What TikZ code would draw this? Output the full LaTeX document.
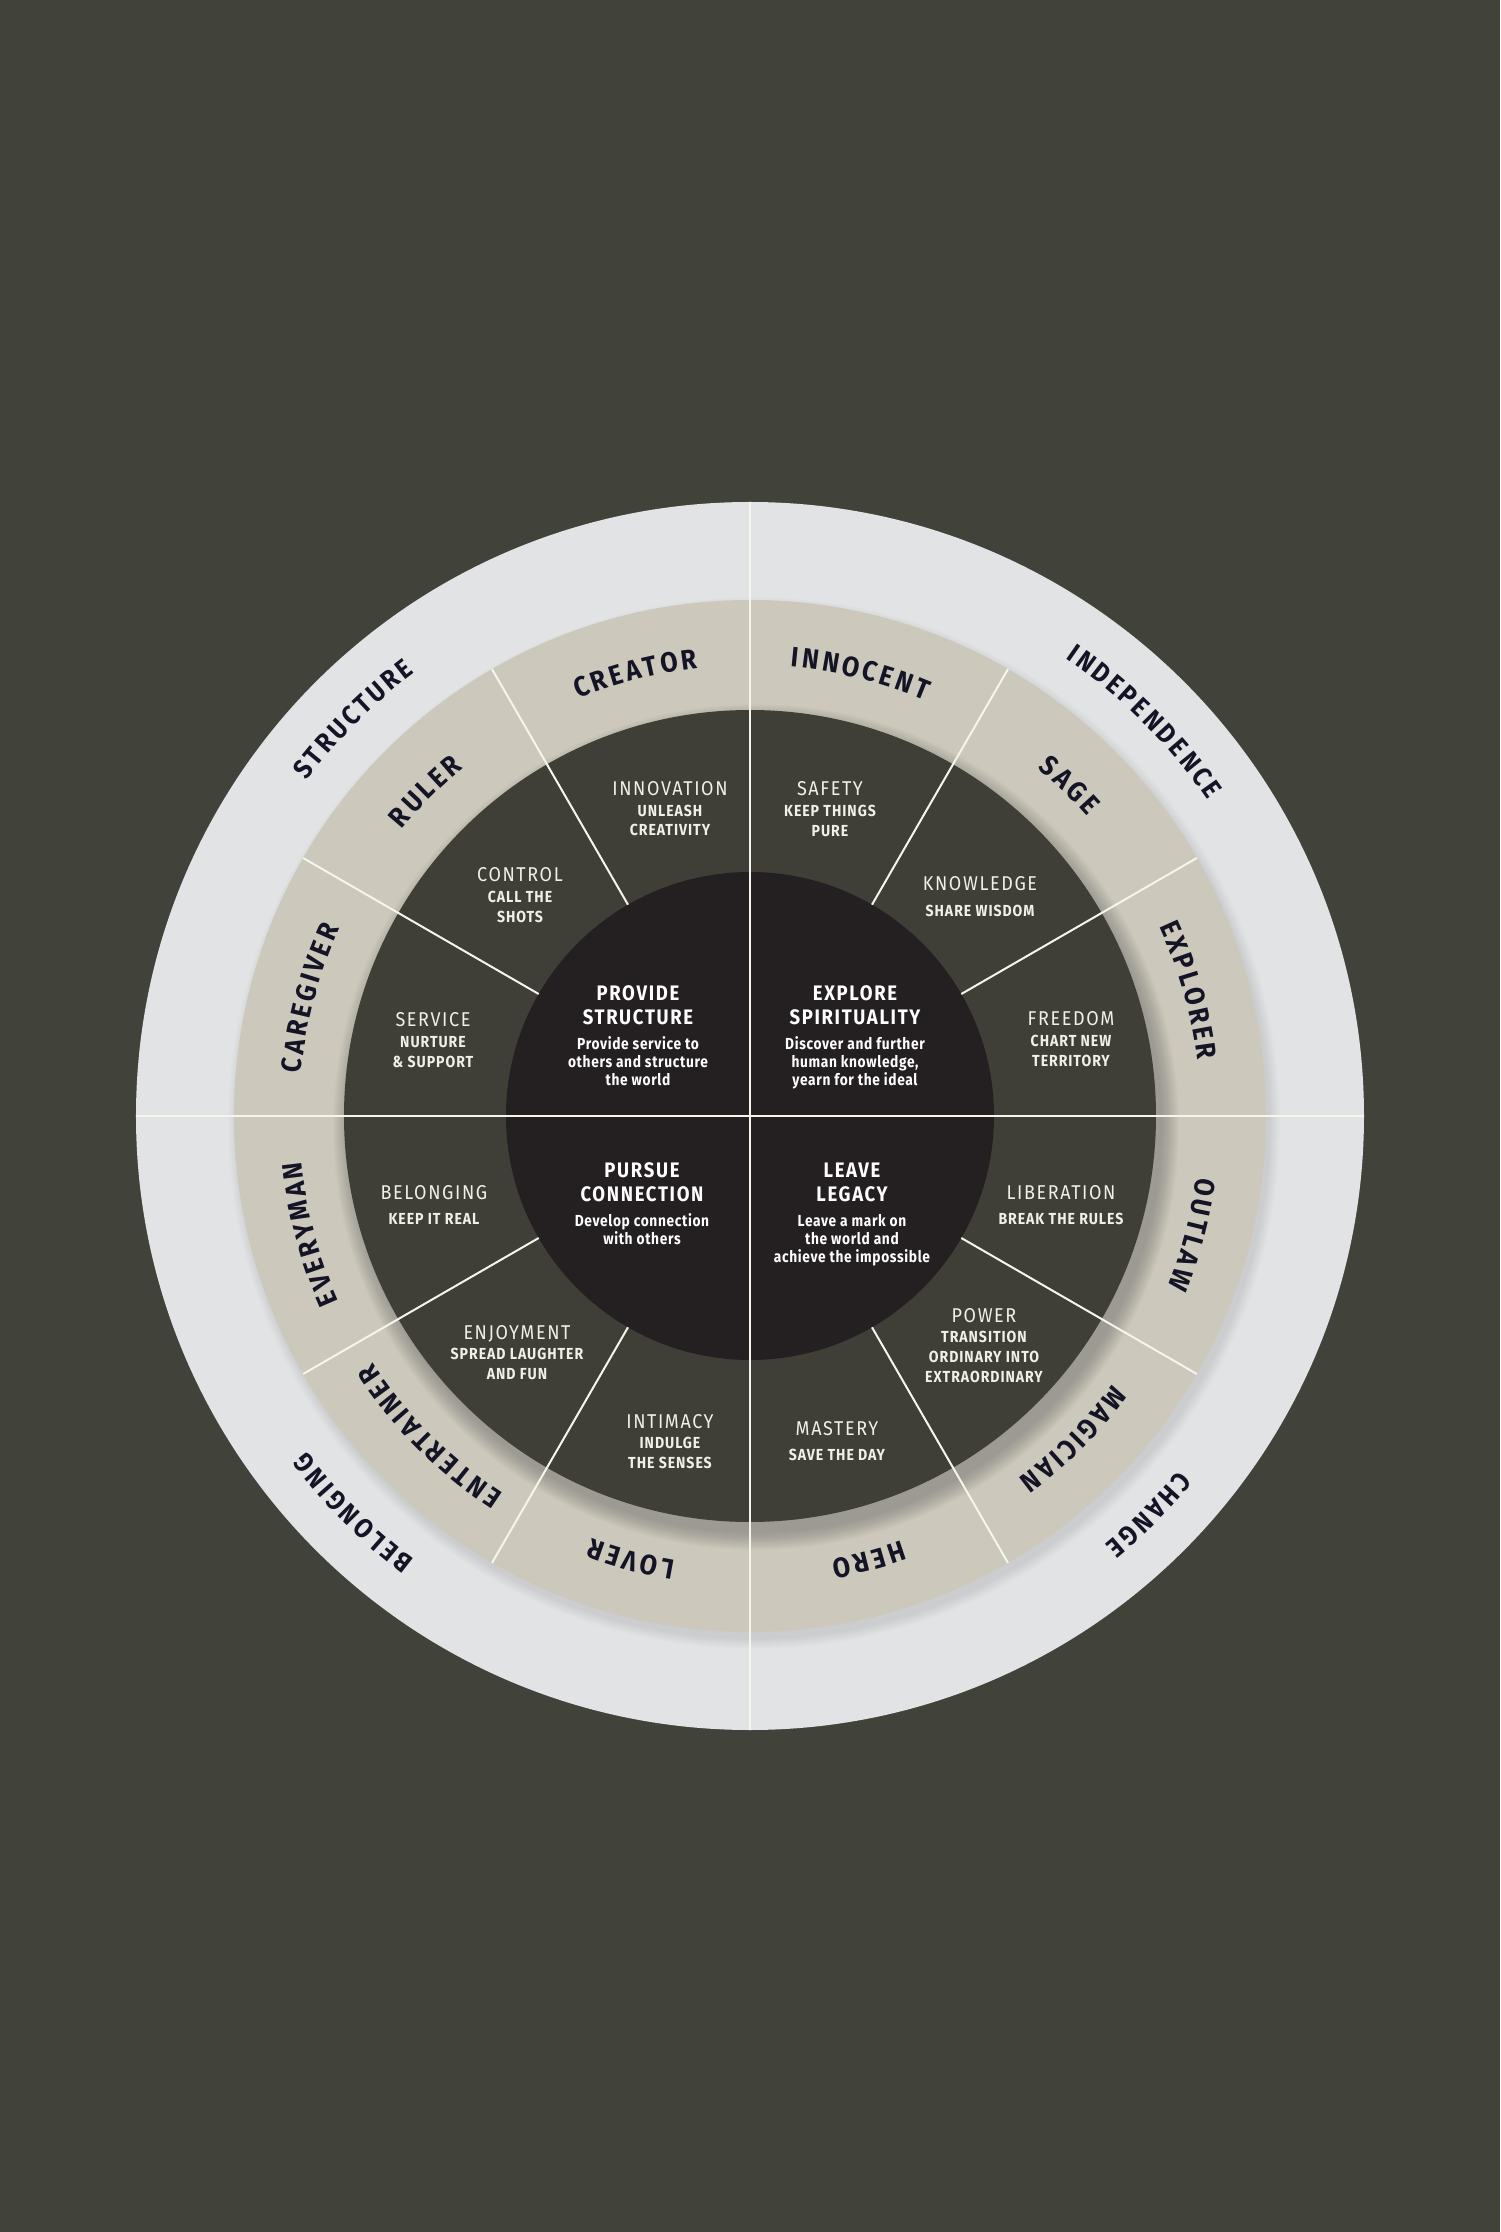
\documentclass[tikz,border=0pt]{standalone}
\usepackage{fontspec}
\setmainfont{Fira Sans}
\newfontfamily\arcfam{Fira Sans}[FakeStretch=0.9]
\newfontfamily\ttlfam{Fira Sans}[FakeStretch=0.9, LetterSpace=8]
\newfontfamily\subfam{Fira Sans}[FakeStretch=0.88, LetterSpace=6]
\newfontfamily\ctrfam{Fira Sans}[FakeStretch=0.88, LetterSpace=8]
\newfontfamily\descfam{Fira Sans}[FakeStretch=0.86, LetterSpace=4]
\newcommand\lblfont{\arcfam\bfseries\fontsize{28}{28}\selectfont}
\newcommand\outfont{\arcfam\bfseries\fontsize{27}{27}\selectfont}

\definecolor{bg}{RGB}{65,66,57}
\definecolor{outerring}{RGB}{226,227,228}
\definecolor{beige}{RGB}{204,201,188}
\definecolor{darkring}{RGB}{63,63,55}
\definecolor{core}{RGB}{36,32,33}
\definecolor{navy}{RGB}{20,20,38}
\definecolor{ink}{RGB}{240,239,232}
\definecolor{divline}{RGB}{246,245,236}

\tikzset{
  ttl/.style={font=\ttlfam\fontsize{20}{20}\selectfont, text=ink, inner sep=0pt, text height=14pt, text depth=0pt},
  sub/.style={font=\subfam\bfseries\fontsize{16}{16}\selectfont, text=ink, inner sep=0pt, text height=11pt, text depth=0pt},
  ctitle/.style={font=\ctrfam\bfseries\fontsize{21}{21}\selectfont, text=white, inner sep=0pt, text height=14.5pt, text depth=0pt},
  cdesc/.style={font=\descfam\bfseries\fontsize{16}{16}\selectfont, text=white, inner sep=0pt, text height=11pt, text depth=0pt},
  divider/.style={draw=divline, line width=2pt},
  arcletter/.style={inner sep=0pt, anchor=base, text=navy},
}

\newdimen\arctot
\newdimen\arccum
\newdimen\arcw
\newsavebox\arcbox
\newcommand\arctrack{3.2pt}

\newcommand\measurech[2]{%
  \pgfinterruptpicture
    \global\setbox\arcbox=\hbox{#1#2}%
  \endpgfinterruptpicture
  \global\arcw=\wd\arcbox
}

% #1 name, #2 centre angle, #3 baseline radius, #4 font, #5 letters
\newcommand\arcword[5]{%
  \global\arctot=0pt
  \foreach \ch in {#5} {%
    \measurech{#4}{\ch}%
    \global\advance\arctot by \arcw
    \global\advance\arctot by \arctrack
  }%
  \global\advance\arctot by -\arctrack
  \global\arccum=0pt
  \foreach \ch [count=\i] in {#5} {%
    \measurech{#4}{\ch}%
    \pgfmathsetmacro\chang{#2 + (0.5*\arctot - \arccum - 0.5*\arcw)/(#3)*180/pi}%
    \node[arcletter, font=#4, rotate=\chang-90] (#1\i) at (\chang:#3) {\ch};
    \global\advance\arccum by \arcw
    \global\advance\arccum by \arctrack
  }%
}

\begin{document}
\begin{tikzpicture}[x=1pt,y=1pt]
  \fill[bg] (-750,-1116) rectangle (750,1116);
  \useasboundingbox (-750,-1116) rectangle (750,1116);

  % outer ring
  \fill[outerring] (0,0) circle (614);
  \begin{scope}
    \clip (0,0) circle (614);
    \foreach \k in {0,...,10} {\fill[black, opacity=0.006] (4,-7) circle ({516+\k});}
  \end{scope}
  % beige ring
  \fill[beige] (0,0) circle (516);
  \foreach \k in {0,...,17} {\fill[black, opacity=0.011] (6,-11) circle ({406+\k});}
  % dark ring
  \fill[darkring] (0,0) circle (406);
  % core
  \fill[core] (0,0) circle (244);

  % dividers
  \draw[divider] (0,614) -- (0,-614);
  \draw[divider] (-614,0) -- (614,0);
  \foreach \a in {30,60,120,150,210,240,300,330}
    \draw[divider] (\a:244) -- (\a:516);

  % outer labels
  \arcword{structure}{135}{556}{\outfont}{S,T,R,U,C,T,U,R,E}
  \arcword{independence}{45}{556}{\outfont}{I,N,D,E,P,E,N,D,E,N,C,E}
  \arcword{change}{-45}{556}{\outfont}{C,H,A,N,G,E}
  \arcword{belongingq}{-135}{556}{\outfont}{B,E,L,O,N,G,I,N,G}

  % archetype labels
  \arcword{creator}{104.5}{451}{\lblfont}{C,R,E,A,T,O,R}
  \arcword{innocent}{76}{451}{\lblfont}{I,N,N,O,C,E,N,T}
  \arcword{sage}{46}{451}{\lblfont}{S,A,G,E}
  \arcword{explorer}{16}{451}{\lblfont}{E,X,P,L,O,R,E,R}
  \arcword{outlaw}{-15}{451}{\lblfont}{O,U,T,L,A,W}
  \arcword{magician}{-45}{451}{\lblfont}{M,A,G,I,C,I,A,N}
  \arcword{hero}{-75}{451}{\lblfont}{H,E,R,O}
  \arcword{lover}{-105}{451}{\lblfont}{L,O,V,E,R}
  \arcword{entertainer}{-135}{451}{\lblfont}{E,N,T,E,R,T,A,I,N,E,R}
  \arcword{everyman}{-165}{451}{\lblfont}{E,V,E,R,Y,M,A,N}
  \arcword{caregiver}{165}{451}{\lblfont}{C,A,R,E,G,I,V,E,R}
  \arcword{ruler}{135}{451}{\lblfont}{R,U,L,E,R}

  % dark ring texts
  \node[ttl] (innov) at (-80,327) {INNOVATION};
  \node[sub] (innovA) at (-80,305) {UNLEASH};
  \node[sub] (innovB) at (-80,286) {CREATIVITY};

  \node[ttl] (safety) at (80,327) {SAFETY};
  \node[sub] (safetyA) at (80,305) {KEEP THINGS};
  \node[sub] (safetyB) at (80,285) {PURE};

  \node[ttl] (control) at (-230,241) {CONTROL};
  \node[sub] (controlA) at (-230,219) {CALL THE};
  \node[sub] (controlB) at (-230,199) {SHOTS};

  \node[ttl] (knowledge) at (230,232) {KNOWLEDGE};
  \node[sub] (knowledgeA) at (230,205) {SHARE WISDOM};

  \node[ttl] (service) at (-317,96) {SERVICE};
  \node[sub] (serviceA) at (-317,74) {NURTURE};
  \node[sub] (serviceB) at (-317,54) {\& SUPPORT};

  \node[ttl] (freedom) at (321,97) {FREEDOM};
  \node[sub] (freedomA) at (321,75) {CHART NEW};
  \node[sub] (freedomB) at (321,55) {TERRITORY};

  \node[ttl] (belong) at (-316,-76) {BELONGING};
  \node[sub] (belongA) at (-316,-103) {KEEP IT REAL};

  \node[ttl] (liber) at (311,-76) {LIBERATION};
  \node[sub] (liberA) at (311,-103) {BREAK THE RULES};

  \node[ttl] (enjoy) at (-233,-216) {ENJOYMENT};
  \node[sub] (enjoyA) at (-233,-238) {SPREAD LAUGHTER};
  \node[sub] (enjoyB) at (-233,-258) {AND FUN};

  \node[ttl] (power) at (234,-199) {POWER};
  \node[sub] (powerA) at (234,-221) {TRANSITION};
  \node[sub] (powerB) at (234,-241) {ORDINARY INTO};
  \node[sub] (powerC) at (234,-261) {EXTRAORDINARY};

  \node[ttl] (intimacy) at (-80,-305) {INTIMACY};
  \node[sub] (intimacyA) at (-80,-327) {INDULGE};
  \node[sub] (intimacyB) at (-80,-347) {THE SENSES};

  \node[ttl] (mastery) at (87,-312) {MASTERY};
  \node[sub] (masteryA) at (87,-339) {SAVE THE DAY};

  % core texts
  \node[ctitle] (provA) at (-112,123) {PROVIDE};
  \node[ctitle] (provB) at (-112,99) {STRUCTURE};
  \node[cdesc] (provC) at (-112,72) {Provide service to};
  \node[cdesc] (provD) at (-112,54) {others and structure};
  \node[cdesc] (provE) at (-112,36) {the world};

  \node[ctitle] (explA) at (105,123) {EXPLORE};
  \node[ctitle] (explB) at (105,99) {SPIRITUALITY};
  \node[cdesc] (explC) at (105,72) {Discover and further};
  \node[cdesc] (explD) at (105,54) {human knowledge,};
  \node[cdesc] (explE) at (105,36) {yearn for the ideal};

  \node[ctitle] (pursA) at (-108,-54) {PURSUE};
  \node[ctitle] (pursB) at (-108,-78) {CONNECTION};
  \node[cdesc] (pursC) at (-108,-105) {Develop connection};
  \node[cdesc] (pursD) at (-108,-123) {with others};

  \node[ctitle] (leavA) at (102,-54) {LEAVE};
  \node[ctitle] (leavB) at (102,-78) {LEGACY};
  \node[cdesc] (leavC) at (102,-105) {Leave a mark on};
  \node[cdesc] (leavD) at (102,-123) {the world and};
  \node[cdesc] (leavE) at (102,-141) {achieve the impossible};
\end{tikzpicture}
\end{document}
